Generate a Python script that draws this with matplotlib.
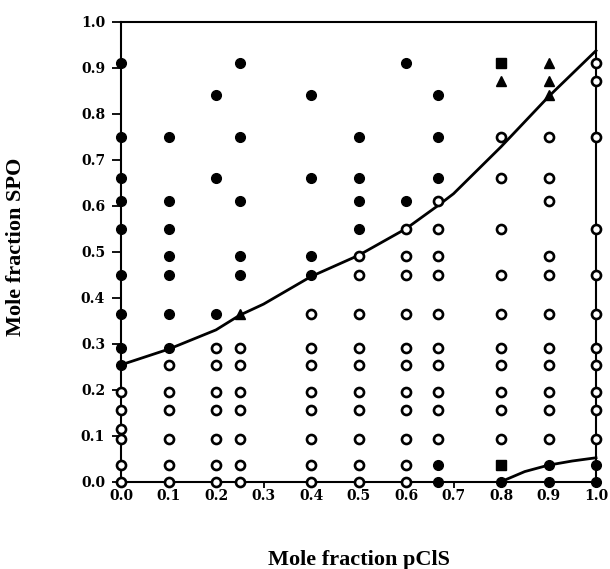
import matplotlib
matplotlib.use('Agg')
import matplotlib.pyplot as plt

# filled circles (one phase)
fill_x = [0, 0, 0, 0, 0, 0, 0, 0, 0,
          0.1, 0.1, 0.1, 0.1, 0.1, 0.1, 0.1,
          0.2, 0.2, 0.2,
          0.25, 0.25, 0.25, 0.25, 0.25,
          0.4, 0.4, 0.4, 0.4,
          0.5, 0.5, 0.5, 0.5,
          0.6, 0.6,
          0.667, 0.667, 0.667, 0.667, 0.667,
          0.8,
          0.9, 0.9,
          1.0, 1.0]
fill_y = [0.91, 0.75, 0.66, 0.61, 0.55, 0.45, 0.364, 0.29, 0.254,
          0.75, 0.61, 0.55, 0.49, 0.45, 0.364, 0.29,
          0.84, 0.66, 0.364,
          0.91, 0.75, 0.61, 0.49, 0.45,
          0.84, 0.66, 0.49, 0.45,
          0.75, 0.66, 0.61, 0.55,
          0.91, 0.61,
          0.84, 0.75, 0.66, 0.036, 0.0,
          0.0,
          0.036, 0.0,
          0.036, 0.0]

# open circles, listed column by column
open_cols = {
    0.0:   [0.194, 0.155, 0.115, 0.093, 0.036, 0.0],
    0.1:   [0.254, 0.194, 0.155, 0.093, 0.036, 0.0],
    0.2:   [0.29, 0.254, 0.194, 0.155, 0.093, 0.036, 0.0],
    0.25:  [0.29, 0.254, 0.194, 0.155, 0.093, 0.036, 0.0],
    0.4:   [0.364, 0.29, 0.254, 0.194, 0.155, 0.093, 0.036, 0.0],
    0.5:   [0.49, 0.45, 0.364, 0.29, 0.254, 0.194, 0.155, 0.093, 0.036, 0.0],
    0.6:   [0.55, 0.49, 0.45, 0.364, 0.29, 0.254, 0.194, 0.155, 0.093, 0.036, 0.0],
    0.667: [0.61, 0.55, 0.49, 0.45, 0.364, 0.29, 0.254, 0.194, 0.155, 0.093],
    0.8:   [0.75, 0.66, 0.55, 0.45, 0.364, 0.29, 0.254, 0.194, 0.155, 0.093],
    0.9:   [0.75, 0.66, 0.61, 0.49, 0.45, 0.364, 0.29, 0.254, 0.194, 0.155, 0.093],
    1.0:   [0.91, 0.87, 0.75, 0.55, 0.45, 0.364, 0.29, 0.254, 0.194, 0.155, 0.093],
}
open_x = [x for x, ys in open_cols.items() for _ in ys]
open_y = [y for ys in open_cols.values() for y in ys]

# filled squares and triangles
sq_x = [0.8, 0.8]
sq_y = [0.91, 0.036]
tri_x = [0.25, 0.8, 0.9, 0.9, 0.9]
tri_y = [0.364, 0.87, 0.91, 0.87, 0.84]

# phase boundaries
upper_x = [0, 0.1, 0.2, 0.25, 0.3, 0.4, 0.5, 0.6, 0.667, 0.7, 0.8, 0.9, 1.0]
upper_y = [0.254, 0.288, 0.33, 0.362, 0.386, 0.446, 0.492, 0.55, 0.6, 0.626, 0.728, 0.837, 0.937]
lower_x = [0.8, 0.85, 0.9, 0.95, 1.0]
lower_y = [0.0, 0.022, 0.036, 0.045, 0.052]

ticks = [0.0, 0.1, 0.2, 0.3, 0.4, 0.5, 0.6, 0.7, 0.8, 0.9, 1.0]

fig = plt.figure(figsize=(6.1, 5.69), dpi=100)
ax = fig.add_axes([121/610, 1 - 481.7/569, 475/610, 460/569])

ax.plot(upper_x, upper_y, color='black', lw=2, clip_on=False, zorder=2)
ax.plot(lower_x, lower_y, color='black', lw=2, clip_on=False, zorder=2)

ax.plot(open_x, open_y, 'o', ms=6.5, mfc='white', mec='black', mew=1.9,
        ls='none', clip_on=False, zorder=3)
ax.plot(fill_x, fill_y, 'o', ms=7, color='black', ls='none', clip_on=False, zorder=3)
ax.plot(sq_x, sq_y, 's', ms=6.5, color='black', ls='none', clip_on=False, zorder=3)
ax.plot(tri_x, tri_y, '^', ms=7, color='black', ls='none', clip_on=False, zorder=3)

ax.set_xlim(0, 1)
ax.set_ylim(0, 1)
ax.set_xticks(ticks)
ax.set_yticks(ticks)
ax.set_xticklabels([f'{t:.1f}' for t in ticks])
ax.set_yticklabels([f'{t:.1f}' for t in ticks])

for s in ax.spines.values():
    s.set_linewidth(1.5)

for lab in ax.get_xticklabels() + ax.get_yticklabels():
    lab.set_fontfamily('DejaVu Serif')
    lab.set_fontweight('bold')
    lab.set_fontsize(10)

ax.tick_params(axis='x', direction='out', length=4, width=1.3, pad=1)
ax.tick_params(axis='y', direction='out', length=6.5, width=1.3, pad=5)

ax.set_xlabel('Mole fraction pClS', family='Liberation Serif', weight='bold', fontsize=16)
ax.set_ylabel('Mole fraction SPO', family='Liberation Serif', weight='bold', fontsize=16)
ax.xaxis.set_label_coords(0.5, -0.148)
ax.yaxis.set_label_coords(-0.2, 0.51)

fig.savefig('out.png', dpi=100)
